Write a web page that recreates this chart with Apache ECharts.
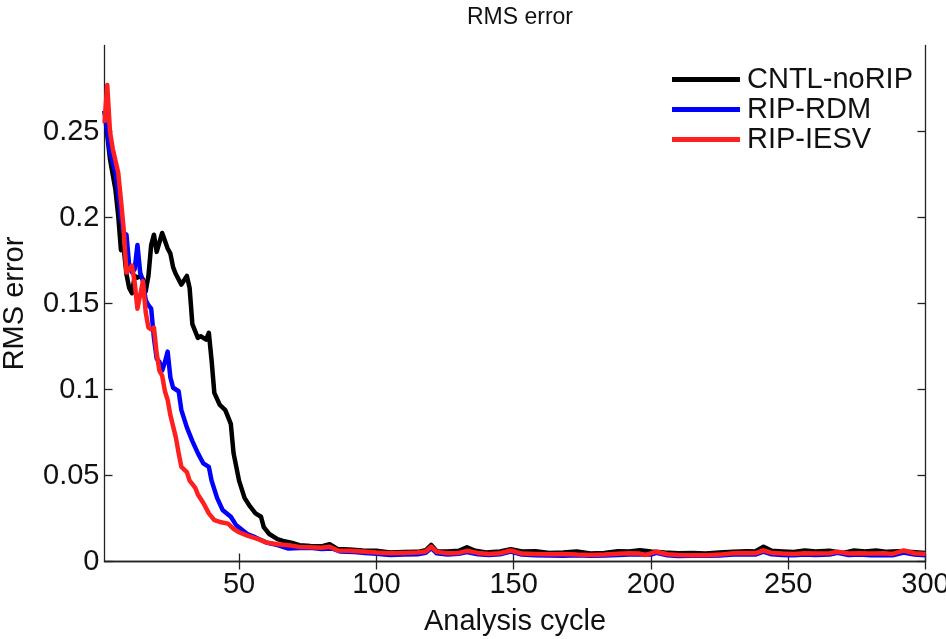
<!DOCTYPE html>
<html>
<head>
<meta charset="utf-8">
<script src="https://cdn.jsdelivr.net/npm/echarts@6/dist/echarts.min.js"></script>
<style>
html,body{margin:0;padding:0;background:#fff;}
#chart{width:946px;height:639px;}
</style>
</head>
<body>
<div id="chart"></div>
<script>
const seriesNames = ['CNTL-noRIP', 'RIP-RDM', 'RIP-IESV'];
const xTicks = [50, 100, 150, 200, 250, 300];
const yTicks = [0, 0.05, 0.1, 0.15, 0.2, 0.25];

const cntlCycles = [1,2,3,5,6,7,8,9,10,11,12,13,14,15,16,17,18,19,20,22,24,25,26,27,29,31,32,33,35,36,38,39,40,41,43,45,47,48,50,52,54,56,58,59,61,64,66,69,72,76,80,83,86,90,95,100,105,110,115,118,120,122,126,130,133,136,140,145,149,153,158,163,168,173,178,183,188,192,196,200,205,210,215,220,225,230,235,238,241,244,248,252,256,260,265,270,274,278,282,286,290,295,300];
const cntlRms = [0.262,0.248,0.234,0.216,0.201,0.181,0.182,0.167,0.159,0.156,0.166,0.165,0.166,0.164,0.157,0.166,0.184,0.190,0.180,0.191,0.182,0.179,0.171,0.167,0.161,0.166,0.159,0.138,0.130,0.131,0.129,0.133,0.117,0.098,0.091,0.088,0.080,0.063,0.047,0.037,0.032,0.028,0.026,0.020,0.016,0.013,0.012,0.011,0.0095,0.0090,0.0088,0.0100,0.0072,0.0070,0.0064,0.0062,0.0052,0.0055,0.0056,0.0065,0.0096,0.0060,0.0058,0.0062,0.0083,0.0062,0.0052,0.0058,0.0071,0.0058,0.0060,0.0050,0.0052,0.0058,0.0047,0.0050,0.0060,0.0058,0.0066,0.0058,0.0052,0.0048,0.0050,0.0046,0.0052,0.0057,0.0060,0.0058,0.0086,0.0062,0.0058,0.0055,0.0064,0.0058,0.0062,0.0050,0.0064,0.0058,0.0064,0.0056,0.0060,0.0055,0.0050];

const rdmCycles = [1,2,3,5,6,7,8,9,10,11,12,13,14,15,16,17,18,19,20,21,22,23,24,25,26,28,29,31,33,35,37,39,40,42,44,47,49,53,56,60,64,68,72,76,80,84,87,92,96,100,105,110,115,118,120,122,126,130,133,137,141,145,149,153,158,163,168,173,178,183,188,192,196,200,202,206,210,215,220,225,230,235,238,241,244,248,252,256,260,265,268,272,276,280,285,288,292,296,300];
const rdmRms = [0.262,0.250,0.238,0.226,0.214,0.200,0.191,0.190,0.172,0.168,0.170,0.184,0.168,0.163,0.152,0.149,0.147,0.130,0.118,0.116,0.111,0.116,0.122,0.107,0.101,0.099,0.088,0.078,0.070,0.063,0.057,0.055,0.047,0.037,0.030,0.026,0.021,0.016,0.014,0.011,0.0095,0.0075,0.0078,0.0080,0.0072,0.0075,0.0058,0.0055,0.0050,0.0045,0.0038,0.0040,0.0042,0.0050,0.0078,0.0048,0.0040,0.0045,0.0055,0.0042,0.0038,0.0042,0.0058,0.0040,0.0036,0.0035,0.0034,0.0036,0.0033,0.0035,0.0038,0.0040,0.0042,0.0040,0.0050,0.0036,0.0032,0.0034,0.0033,0.0035,0.0040,0.0042,0.0040,0.0058,0.0042,0.0038,0.0036,0.0040,0.0038,0.0040,0.0050,0.0038,0.0040,0.0037,0.0038,0.0036,0.0052,0.0040,0.0036];

const iesvCycles = [1,2,3,4,5,6,7,8,8.5,9,11,12,13,14,15,16,17,18,19,20,21,22,23,24,25,27,28,29,31,32,34,35,37,39,41,43,46,48,50,53,57,60,64,68,72,76,80,83,86,90,95,100,105,110,115,118,120,122,126,130,133,137,141,145,149,153,158,163,168,173,178,183,188,192,196,198,202,206,210,215,220,225,230,235,238,241,244,248,252,256,260,265,268,272,276,280,285,288,292,296,300];
const iesvRms = [0.255,0.277,0.250,0.240,0.233,0.226,0.210,0.193,0.180,0.168,0.172,0.162,0.147,0.155,0.163,0.145,0.136,0.135,0.136,0.121,0.111,0.108,0.099,0.094,0.085,0.072,0.063,0.055,0.052,0.047,0.043,0.039,0.034,0.028,0.024,0.023,0.022,0.019,0.017,0.015,0.013,0.011,0.010,0.0095,0.0085,0.0083,0.0080,0.0086,0.0064,0.0063,0.0058,0.0052,0.0048,0.0050,0.0052,0.0058,0.0086,0.0056,0.0048,0.0050,0.0062,0.0050,0.0044,0.0048,0.0064,0.0046,0.0044,0.0042,0.0044,0.0040,0.0038,0.0040,0.0045,0.0048,0.0046,0.0038,0.0057,0.0042,0.0038,0.0037,0.0036,0.0040,0.0048,0.0050,0.0048,0.0064,0.0050,0.0046,0.0044,0.0048,0.0046,0.0048,0.0057,0.0046,0.0048,0.0046,0.0048,0.0044,0.0064,0.0048,0.0044];

const colors = ['#000000', '#0000ff', '#ff1f1f'];
const pairs = (xs, ys) => xs.map((x, i) => [x, ys[i]]);
const FONT = 'Liberation Sans';
const FS = 29;

const chart = echarts.init(document.getElementById('chart'));
const axisLineStyle = {color: '#222', width: 1.3};
const tickStyle = {length: 8, inside: true, lineStyle: {color: '#222', width: 1.3}};

chart.setOption({
  animation: false,
  backgroundColor: '#fff',
  title: {
    text: 'RMS error',
    left: 515, top: 1, textAlign: 'center',
    textStyle: {fontFamily: FONT, fontSize: 23, fontWeight: 'normal', color: '#111'}
  },
  legend: {
    data: seriesNames,
    orient: 'vertical',
    right: 28, top: 60,
    itemWidth: 68, itemHeight: 5, itemGap: 1,
    icon: 'rect',
    textStyle: {fontFamily: FONT, fontSize: FS, color: '#111', padding: [0,0,0,2]}
  },
  grid: {left: 104.5, right: 20.5, top: 45.5, bottom: 77.5, containLabel: false, outerBoundsMode: 'none'},
  xAxis: [{
    type: 'value', min: 1, max: 300,
    name: 'Analysis cycle', nameLocation: 'middle', nameGap: 46,
    nameTextStyle: {fontFamily: FONT, fontSize: FS, color: '#111'},
    axisLine: {show: true, lineStyle: axisLineStyle},
    axisTick: Object.assign({customValues: xTicks}, tickStyle),
    axisLabel: {customValues: xTicks, fontFamily: FONT, fontSize: FS, color: '#111', margin: 9},
    splitLine: {show: false}
  }, {
    type: 'value', min: 1, max: 300, position: 'top',
    axisLine: {show: true, lineStyle: axisLineStyle},
    axisTick: Object.assign({customValues: xTicks}, tickStyle),
    axisLabel: {show: false},
    splitLine: {show: false}
  }],
  yAxis: [{
    type: 'value', min: 0, max: 0.3,
    name: 'RMS error', nameLocation: 'middle', nameGap: 75,
    nameTextStyle: {fontFamily: FONT, fontSize: FS, color: '#111'},
    axisLine: {show: true, lineStyle: axisLineStyle},
    axisTick: Object.assign({customValues: yTicks}, tickStyle),
    axisLabel: {customValues: yTicks, fontFamily: FONT, fontSize: FS, color: '#111', margin: 5},
    splitLine: {show: false}
  }, {
    type: 'value', min: 0, max: 0.3, position: 'right',
    axisLine: {show: true, lineStyle: axisLineStyle},
    axisTick: Object.assign({customValues: yTicks}, tickStyle),
    axisLabel: {show: false},
    splitLine: {show: false}
  }],
  series: [
    {name: seriesNames[0], type: 'line', data: pairs(cntlCycles, cntlRms)},
    {name: seriesNames[1], type: 'line', data: pairs(rdmCycles, rdmRms)},
    {name: seriesNames[2], type: 'line', data: pairs(iesvCycles, iesvRms)}
  ].map((s, i) => Object.assign(s, {
    xAxisIndex: 0, yAxisIndex: 0,
    symbol: 'none', showSymbol: false,
    color: colors[i],
    lineStyle: {color: colors[i], width: 4.5, join: 'round'},
    z: 2 + i
  }))
});
</script>
</body>
</html>
